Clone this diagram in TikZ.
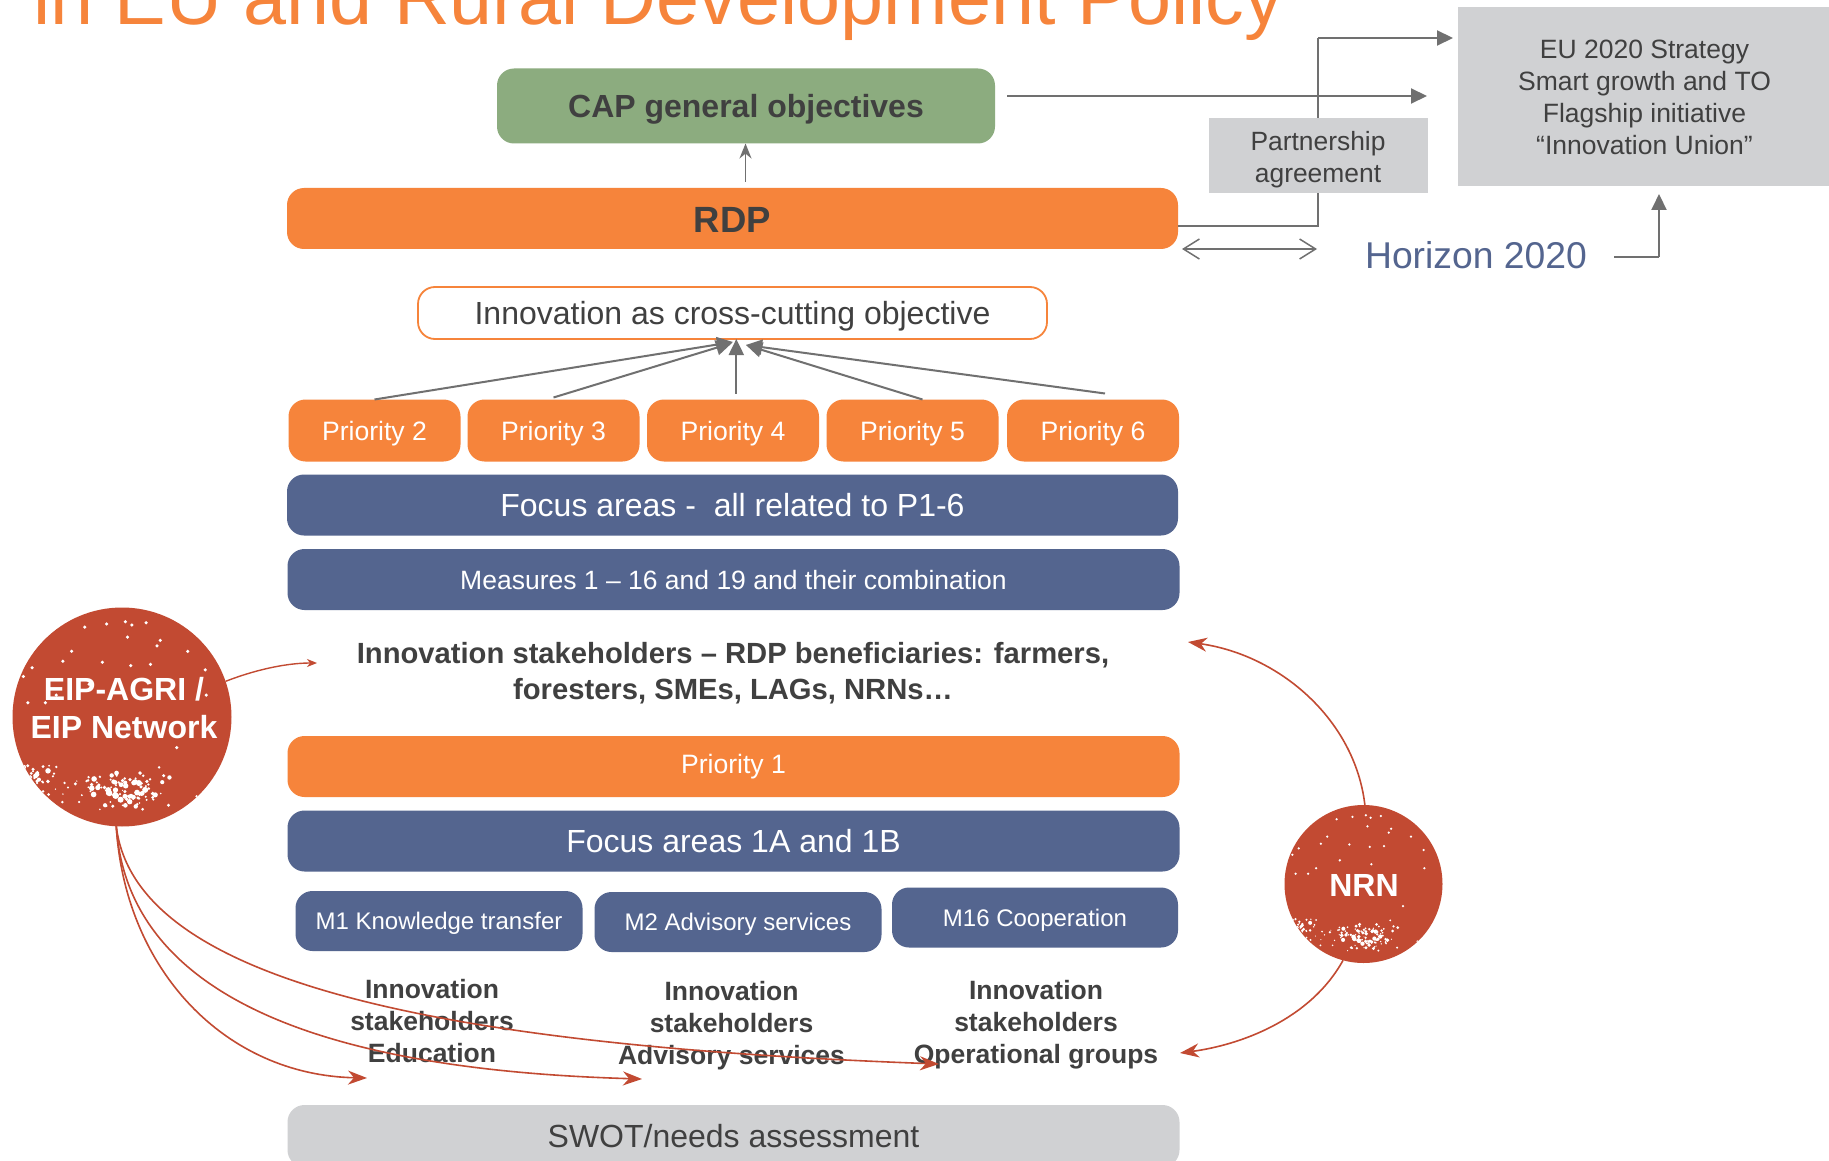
\documentclass[tikz,border=0pt]{standalone}
\usepackage{fontspec}
\setmainfont{Liberation Sans}
\usetikzlibrary{arrows.meta}
\definecolor{cOrange}{HTML}{F6843B}
\definecolor{cBlue}{HTML}{54658F}
\definecolor{cGreen}{HTML}{8CAC7F}
\definecolor{cGrey}{HTML}{D0D1D3}
\definecolor{cDark}{HTML}{404040}
\definecolor{cLine}{HTML}{707070}
\definecolor{cRed}{HTML}{C24A32}
\newcommand{\fsz}[1]{\fontsize{#1}{#1}\selectfont}
\newcommand{\fszl}[2]{\fontsize{#1}{#2}\selectfont}
\newcommand{\specks}[3]{%
  \begin{scope}
    \clip (#1,#2) circle[radius=#3pt];
    \foreach \nx/\ny in {-.14/-.85,.03/-.87,.09/-.84,.22/-.86,-.34/-.82,.05/-.73,.35/-.70,.32/-.65,-.46/-.60,-.54/-.51,-.18/-.50,.08/-.47,.26/-.48,.76/-.43,-.82/-.45,-.9/-.37,-.86/-.13,.77/-.20,-.70/-.13,.50/.28,-.6/-.2,.6/-.6,.1/-.25,-.3/-.3}{
      \fill[white] ({#1+#3*\nx},{#2+#3*\ny}) circle[radius={#3*0.016 pt}];
    }
    \pgfmathsetseed{4217}
    \foreach \i in {1,...,85}{
      \pgfmathsetmacro\px{#1+#3*(0.02+0.24*(rand+rand))}
      \pgfmathsetmacro\py{#2+#3*(0.66+0.12*(rand+rand))}
      \pgfmathsetmacro\ps{#3*(0.008+0.020*rnd)}
      \fill[white] (\px,\py) circle[radius=\ps pt];
    }
    \foreach \i in {1,...,28}{
      \pgfmathsetmacro\px{#1+#3*(-0.78+0.10*(rand+rand))}
      \pgfmathsetmacro\py{#2+#3*(0.52+0.06*(rand+rand))}
      \pgfmathsetmacro\ps{#3*(0.008+0.020*rnd)}
      \fill[white] (\px,\py) circle[radius=\ps pt];
    }
    \foreach \i in {1,...,40}{
      \pgfmathsetmacro\px{#1+#3*(0.85*rand)}
      \pgfmathsetmacro\py{#2+#3*(0.68+0.14*rand)}
      \pgfmathsetmacro\ps{#3*(0.005+0.010*rnd)}
      \fill[white] (\px,\py) circle[radius=\ps pt];
    }
  \end{scope}}
\tikzset{
  bar/.style={rectangle,rounded corners=17pt,inner sep=0pt,outer sep=0pt,align=center},
  barO/.style={bar,fill=cOrange,text=white},
  barB/.style={bar,fill=cBlue,text=white},
  greybox/.style={rectangle,fill=cGrey,inner sep=0pt,outer sep=0pt,align=center,text=cDark},
  plain/.style={inner sep=0pt,outer sep=0pt,align=center,text=cDark},
  stk/.style={plain,font=\fszl{26.5}{32}\bfseries},
  one/.style={execute at begin node={\rule[-.25em]{0pt}{1.24em}}},
  garrow/.style={draw=cLine,line width=2pt,-{Stealth[length=16pt,width=15pt,inset=0pt]}},
  gline/.style={draw=cLine,line width=2pt},
  rarrow/.style={draw=cRed,line width=1.6pt,-{Stealth[length=19pt,width=14pt,inset=6pt]}},
  disc/.style={circle,fill=cRed,inner sep=0pt,outer sep=0pt},
  disctxt/.style={plain,text=white,font=\fszl{32}{38.5}\bfseries},
}
\begin{document}
\begin{tikzpicture}[x=1pt,y=-1pt]
\clip (0,0) rectangle (1829,1161);
\fill[white] (0,0) rectangle (1829,1161);
% title
\node[anchor=base west,inner sep=0pt,text=cOrange,font=\fsz{77.3}] (title) at (33,25) {in EU and Rural Development Policy};
% grey targets
\node[greybox,minimum width=371pt,minimum height=179pt,font=\fszl{26.5}{32}] (eu) at (1643.5,97) {\hspace*{2pt}EU 2020 Strategy\\\hspace*{2pt}Smart growth and TO\\\hspace*{2pt}Flagship initiative\\\hspace*{2pt}“Innovation Union”};
% top boxes
\node[bar,fill=cGreen,text=cDark,minimum width=498pt,minimum height=75pt,font=\fsz{32}\bfseries,one] (cap) at (746,106) {CAP general objectives};
\node[barO,text=cDark,minimum width=891pt,minimum height=61pt,font=\fsz{36.5}\bfseries,one] (rdp) at (732.5,218.5) {RDP};
% lines behind partnership box
\coordinate (euin) at (1453,38);
\coordinate (pelbow) at (1318,226);
\coordinate (ptop) at (1318,38);
\draw[gline] (rdp.east |- pelbow) -- (pelbow) -- (ptop);
\draw[garrow] (ptop) -- (euin);
\coordinate (capout) at (1007,96);
\coordinate (euin2) at (1427,96);
\draw[garrow] (capout) -- (euin2);
\node[greybox,minimum width=219pt,minimum height=75pt] (part) at (1318.5,155.5) {};
\node[plain,font=\fszl{26.4}{32.5}] (parttxt) at (1318,159.5) {Partnership\\agreement};
\draw[draw=cLine,line width=1.3pt,-{Stealth[length=15pt,width=12pt]}] ([xshift=13pt,yshift=6pt]rdp.north) -- ([xshift=-0.5pt]cap.south);
% horizon
\node[plain,text=cBlue,font=\fsz{37.3},one] (hor) at (1476,255) {Horizon 2020};
\coordinate (dblL) at (1182,249);
\coordinate (dblR) at (1317,249);
\draw[draw=cLine,line width=1.5pt,{Straight Barb[length=16pt,width=20pt]}-{Straight Barb[length=16pt,width=20pt]}] (dblL) -- (dblR);
\coordinate (hstart) at (1614,257);
\coordinate (helbow) at (1659,257);
\coordinate (htip) at (1659,194);
\draw[gline] (hstart) -- (helbow);
\draw[garrow] (helbow) -- (htip);
% innovation box
\node[bar,fill=white,draw=cOrange,line width=1.8pt,text=cDark,minimum width=629pt,minimum height=52pt,font=\fsz{32},one] (inn) at (732.5,313) {Innovation as cross-cutting objective};
% priorities
\foreach \nm/\cx/\lab in {p2/374.5/Priority 2,p3/553.5/Priority 3,p4/733/Priority 4,p5/912.5/Priority 5,p6/1093/Priority 6}{
  \node[barO,minimum width=172pt,minimum height=62pt,font=\fsz{26.6},one] (\nm) at (\cx,430.5) {\lab};
}
\draw[garrow] (p2.north) -- ([xshift=0.5pt,yshift=-3pt]inn.south);
\draw[garrow] ([yshift=2pt]p3.north) -- ([xshift=-0.5pt,yshift=-4pt]inn.south);
\draw[garrow] ([xshift=3.3pt,yshift=6pt]p4.north) -- ([xshift=3.8pt]inn.south);
\draw[garrow] ([xshift=10pt]p5.north) -- ([xshift=13.5pt,yshift=-6pt]inn.south);
\draw[garrow] ([xshift=12pt,yshift=6pt]p6.north) -- ([xshift=13.5pt,yshift=-6pt]inn.south);
% bars
\node[barB,minimum width=891pt,minimum height=61pt,font=\fsz{32},one] (fa) at (732.5,505) {Focus areas -\ \ all related to P1-6};
\node[barB,minimum width=892pt,minimum height=61pt,font=\fsz{26.5},one] (meas) at (733.5,579.5) {Measures 1 – 16 and 19 and their combination};
\node[plain,font=\fszl{29.2}{36}\bfseries,text=cDark] (stake) at (733,673) {Innovation stakeholders – RDP beneficiaries: farmers,\\foresters, SMEs, LAGs, NRNs…};
\node[barO,minimum width=892pt,minimum height=61pt,font=\fsz{26.6},one] (p1) at (733.5,766.5) {\raisebox{2.4pt}{Priority 1}};
\node[barB,minimum width=892pt,minimum height=61pt,font=\fsz{32},one] (fa1) at (733.5,841) {Focus areas 1A and 1B};
\node[barB,minimum width=287pt,minimum height=60pt,font=\fsz{24},one] (m1) at (439,921) {M1 Knowledge transfer};
\node[barB,minimum width=287pt,minimum height=60pt,font=\fsz{24},one] (m2) at (738,922) {M2 Advisory services};
\node[barB,minimum width=286pt,minimum height=60pt,font=\fsz{24},one] (m16) at (1035,917.5) {M16 Cooperation};
% stakeholders
\node[stk] (s1) at (432,1021) {Innovation\\stakeholders\\Education};
\node[stk] (s2) at (731.5,1025.5) {Innovation\\stakeholders\\Advisory services};
\node[stk] (s3) at (1036,1024.5) {Innovation\\stakeholders\\Operational groups};
% SWOT
\node[bar,fill=cGrey,text=cDark,minimum width=892pt,minimum height=62pt,font=\fsz{32},one] (swot) at (733.5,1136) {SWOT/needs assessment};
% discs
\node[disc,minimum size=219pt] (eip) at (122,717) {};
\specks{122}{717}{109.5}
\node[disctxt] (eiptxt) at (124,708) {EIP-AGRI /\\EIP Network};
\node[disc,minimum size=158pt] (nrn) at (1363.5,884) {};
\specks{1363.5}{884}{79}
\node[disctxt] (nrntxt) at (1364,885) {NRN};
% red connectors
\coordinate (t0) at (317,663);
\coordinate (t1) at (367,1078);
\coordinate (t2) at (642,1079);
\coordinate (t3) at (939,1064);
\coordinate (t4) at (1188,642);
\coordinate (t5) at (1180,1053);
\draw[draw=cRed,line width=1.4pt,-{Stealth[length=10pt,width=8pt,inset=3pt]}] (eip.19) .. controls (260,668) and (290,663) .. (t0);
\draw[rarrow] (eip.-93) .. controls (125,970) and (225,1075) .. (t1);
\draw[rarrow] (eip.-93) .. controls (128,1000) and (330,1070) .. (t2);
\draw[rarrow] (eip.-93) .. controls (135,980) and (430,1045) .. (t3);
\draw[rarrow] (nrn.89) .. controls (1355,720) and (1280,655) .. (t4);
\draw[rarrow] (nrn.-105) .. controls (1310,1020) and (1240,1045) .. (t5);
\end{tikzpicture}
\end{document}
